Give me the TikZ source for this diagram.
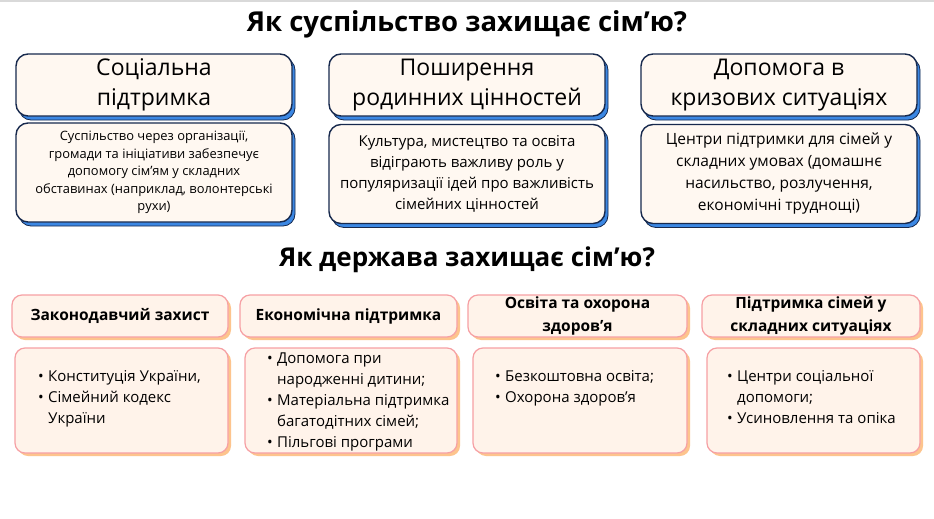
\documentclass[tikz,border=0pt]{standalone}
\usepackage{fontspec}
\setmainfont{Open Sans}
\usetikzlibrary{shadows}
\definecolor{navy}{HTML}{17294D}
\definecolor{topfill}{HTML}{FFF8F1}
\definecolor{blueshadow}{HTML}{3B87E3}
\definecolor{pinkb}{HTML}{F6A0A4}
\definecolor{botfill}{HTML}{FFF3EA}
\definecolor{peach}{HTML}{FDC48D}
\newcommand\mybul{\makebox[10pt][l]{•}}
\newcommand\myind{\hspace*{10pt}}
\begin{document}
\begin{tikzpicture}[x=1pt,y=-1pt,
  topbox/.style={draw=navy, line width=1.4pt, fill=topfill, rounded corners=12pt,
    drop shadow={shadow xshift=3pt, shadow yshift=-4pt, fill=blueshadow, draw=navy, line width=0.8pt, opacity=1},
    inner sep=0pt, align=center, minimum width=276pt},
  tophead/.style={topbox, minimum height=62pt, font=\fontsize{23}{30}\selectfont},
  topbody/.style={topbox, minimum height=99pt},
  botbox/.style={draw=pinkb, line width=1.2pt, fill=botfill, rounded corners=10pt,
    drop shadow={shadow xshift=3pt, shadow yshift=-3pt, fill=peach, opacity=1},
    inner sep=0pt, align=center},
  bothead/.style={botbox, minimum height=42pt, font=\bfseries\fontsize{15.5}{23}\selectfont},
  botbody/.style={botbox, minimum height=105pt},
  bodytext/.style={anchor=north west, inner sep=0pt, align=left, font=\fontsize{15}{21}\selectfont},
  titlestyle/.style={font=\bfseries\fontsize{27.5}{30}\selectfont}
]
\fill[white] (0,0) rectangle (934,519);
\useasboundingbox (0,0) rectangle (934,519);
\fill[black!15] (0,0) rectangle (934,2);

\node[titlestyle] (title1) at (467,24) {Як суспільство захищає сім'ю?};

\node[tophead] (h1) at (154,85) {Соціальна\\підтримка};
\node[tophead] (h2) at (467,85) {Поширення\\родинних цінностей};
\node[tophead] (h3) at (779,85) {Допомога в\\кризових ситуаціях};

\node[topbody, font=\fontsize{12.9}{17.5}\selectfont] (s1) at (154,172.5)
  {Суспільство через організації,\\громади та ініціативи забезпечує\\допомогу сім'ям у складних\\обставинах (наприклад, волонтерські\\рухи)};
\node[topbody, font=\fontsize{15}{21}\selectfont] (s2) at (467,174)
  {Культура, мистецтво та освіта\\відіграють важливу роль у\\популяризації ідей про важливість\\сімейних цінностей};
\node[topbody, font=\fontsize{15.5}{22}\selectfont] (s3) at (779,174)
  {Центри підтримки для сімей у\\складних умовах (домашнє\\насильство, розлучення,\\економічні труднощі)};

\node[titlestyle, font=\bfseries\fontsize{26}{30}\selectfont] (title2) at (467,260) {Як держава захищає сім'ю?};

\node[bothead, minimum width=216pt] (g1) at (120,316) {Законодавчий захист};
\node[bothead, minimum width=217pt] (g2) at (348.5,316) {Економічна підтримка};
\node[bothead, minimum width=219pt] (g3) at (577.5,316) {Освіта та охорона\\здоров'я};
\node[bothead, minimum width=218pt] (g4) at (811,316) {Підтримка сімей у\\складних ситуаціях};

\node[botbody, minimum width=213pt] (b1) at (121.5,400.5) {};
\node[botbody, minimum width=212pt] (b2) at (351,400.5) {};
\node[botbody, minimum width=214pt] (b3) at (580,400.5) {};
\node[botbody, minimum width=213pt] (b4) at (813.5,400.5) {};

\node[bodytext] (t1) at (38,370) {\mybul Конституція України,\\\mybul Сімейний кодекс\\\myind України};
\node[bodytext] (t2) at (267,353) {\mybul Допомога при\\\myind народженні дитини;\\\mybul Матеріальна підтримка\\\myind багатодітних сімей;\\\mybul Пільгові програми};
\node[bodytext] (t3) at (495,370) {\mybul Безкоштовна освіта;\\\mybul Охорона здоров'я};
\node[bodytext] (t4) at (727,370) {\mybul Центри соціальної\\\myind допомоги;\\\mybul Усиновлення та опіка};
\end{tikzpicture}
\end{document}
